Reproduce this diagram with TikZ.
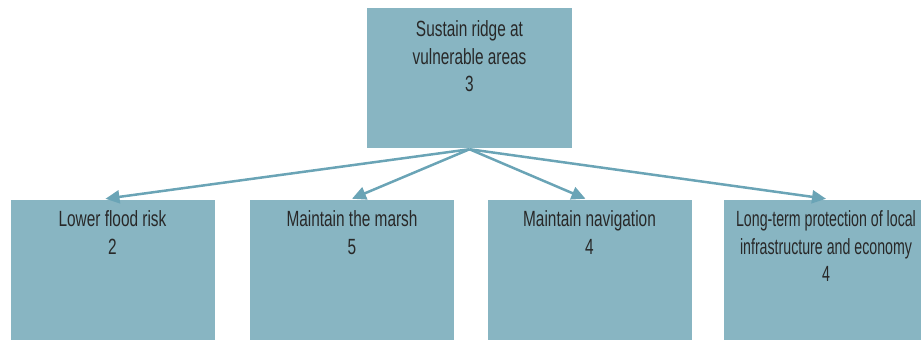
\documentclass[tikz,border=0pt]{standalone}
\usepackage{fontspec}
\setmainfont{Liberation Sans}[FakeStretch=0.7]
\newfontfamily\narrowsans{Liberation Sans}[FakeStretch=0.645]
\usepackage{tikz}
\usetikzlibrary{arrows.meta,positioning}
\definecolor{boxblue}{RGB}{136,181,194}
\definecolor{linkblue}{RGB}{106,164,182}
\definecolor{inktext}{RGB}{40,40,40}
\tikzset{goal box/.style={rectangle,fill=boxblue,draw=none,minimum width=204pt,minimum height=140pt,inner sep=0pt},
}

\begin{document}
\begin{tikzpicture}[x=1pt,y=-1pt,-{Triangle[length=14pt,width=13pt]},
	line width=2.5pt,draw=linkblue,
	goal text/.style={anchor=north,align=center,text=inktext,inner sep=0pt,
		font=\fontsize{22}{27.5}\selectfont}]
	\useasboundingbox (0,0) rectangle (921,340);
	
	\node[goal box, minimum width=205pt] (ridge) at (469.5,78) {};
	\node[goal box] (flood) at (112.5,270) {};
	\node[goal box] (marsh) at (352,270) {};
	\node[goal box] (navig) at (589.5,270) {};
	\node[goal box] (econ) at (826,270) {};
	
	\node[goal text] (ridgetxt) [below=13pt of ridge.north] {Sustain ridge at\\vulnerable areas\\3};
	\node[goal text] (floodtxt) [below=11pt of flood.north] {Lower flood risk\\2};
	\node[goal text] (marshtxt) [below=11pt of marsh.north] {Maintain the marsh\\5};
	\node[goal text] (navigtxt) [below=11pt of navig.north] {Maintain navigation\\4};
	\node[goal text, font=\narrowsans\fontsize{22}{27.5}\selectfont] (econtxt) [below=11pt of econ.north] {Long-term protection of local\\infrastructure and economy\\4};
	
	\path
	(ridge.south) edge ([xshift=-7pt]flood.north)
	(ridge.south) edge (marsh.north)
	(ridge.south) edge ([xshift=-4pt]navig.north)
	(ridge.south) edge (econ.north)
	;
\end{tikzpicture}
\end{document}
